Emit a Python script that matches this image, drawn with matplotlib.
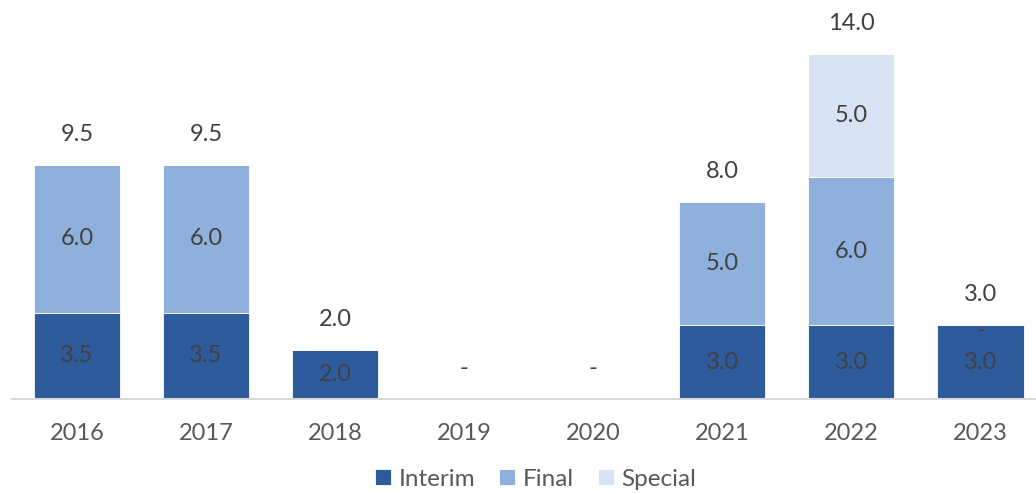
import numpy as np
import matplotlib.pyplot as plt

plt.rcParams['font.family'] = ['Lato', 'DejaVu Sans']

years = ['2016', '2017', '2018', '2019', '2020', '2021', '2022', '2023']
interim = [3.5, 3.5, 2.0, 0.0, 0.0, 3.0, 3.0, 3.0]
final = [6.0, 6.0, np.nan, np.nan, np.nan, 5.0, 6.0, 0.0]
special = [np.nan, np.nan, np.nan, np.nan, np.nan, np.nan, 5.0, np.nan]

c_interim = '#2E5B9B'
c_final = '#8FAFDD'
c_special = '#D7E3F2'
txt = '#404040'

fig = plt.figure(figsize=(10.36, 4.94), dpi=100)
ax = fig.add_axes([0.0116, 0.1923, 0.9884, 0.798])

x = np.arange(len(years))
w = 0.667
i_arr = np.array(interim)
f_arr = np.nan_to_num(np.array(final))
s_arr = np.nan_to_num(np.array(special))

ax.bar(x, i_arr, w, color=c_interim, edgecolor='white', linewidth=0.6, label='Interim')
ax.bar(x, f_arr, w, bottom=i_arr, color=c_final, edgecolor='white', linewidth=0.6, label='Final')
ax.bar(x, s_arr, w, bottom=i_arr + f_arr, color=c_special, edgecolor='white', linewidth=0.6, label='Special')

def lab(v):
    return '-' if v == 0 else f'{v:.1f}'

fs = 17
for xi, iv, fv, sv in zip(x, interim, final, special):
    if iv > 0:
        ax.text(xi, iv / 2, lab(iv), ha='center', va='center', fontsize=fs, color=txt)
    if not np.isnan(fv):
        ax.text(xi, iv + fv / 2 - (0.22 if fv == 0 else 0), lab(fv), ha='center', va='center', fontsize=fs, color=txt)
    if not np.isnan(sv):
        ax.text(xi, iv + fv + sv / 2, lab(sv), ha='center', va='center', fontsize=fs, color=txt)
    tot = iv + np.nan_to_num(fv) + np.nan_to_num(sv)
    ax.annotate(lab(tot), (xi, tot), xytext=(0, 22), textcoords='offset points',
                ha='center', va='center', fontsize=fs, color=txt)

ax.set_xlim(-0.503, 7.43)
ax.set_ylim(0, 16)
ax.set_xticks(x)
ax.set_xticklabels(years, fontsize=fs, color='#595959')
ax.tick_params(axis='x', length=0, pad=17)
ax.set_yticks([])
for s in ['top', 'right', 'left']:
    ax.spines[s].set_visible(False)
ax.spines['bottom'].set_color('#D9D9D9')
ax.spines['bottom'].set_linewidth(1.5)

fig.legend(loc='center', bbox_to_anchor=(0.517, 0.03), ncol=3, frameon=False,
           fontsize=fs + 0.5, handlelength=0.65, handleheight=0.65, handletextpad=0.3,
           columnspacing=1.0, labelcolor='#595959')

fig.savefig('out.png', dpi=100)
